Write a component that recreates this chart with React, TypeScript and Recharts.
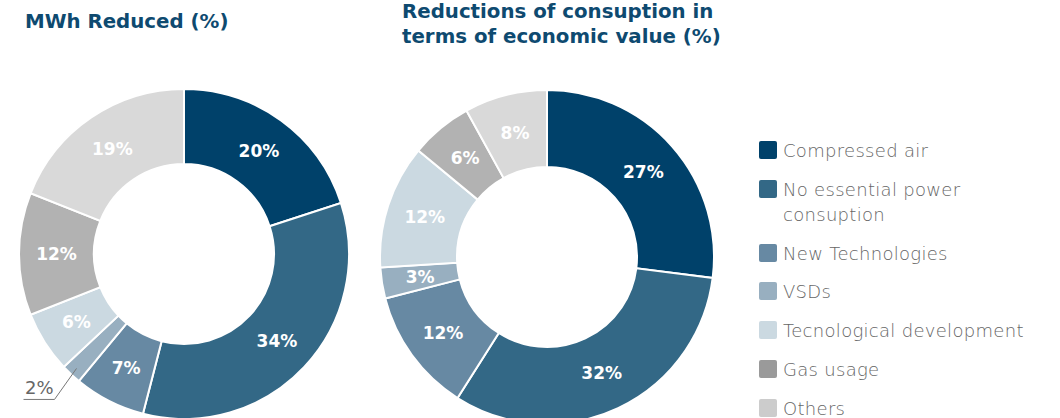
import { PieChart, Pie, Cell } from 'recharts';

const categories = [
  'Compressed air',
  'No essential power consuption',
  'New Technologies',
  'VSDs',
  'Tecnological development',
  'Gas usage',
  'Others',
];
const mwhReduced = [20, 34, 7, 2, 6, 12, 19];
const economicValue = [27, 32, 12, 3, 12, 6, 8];
const sliceColors = ['#00416a', '#336886', '#6789a3', '#98afc0', '#cbd9e1', '#b2b2b2', '#d9d9d9'];
const legendColors = ['#00416a', '#336886', '#6789a3', '#98afc0', '#cbd9e1', '#9a9a9a', '#cccccc'];

const RADIAN = Math.PI / 180;
const FONT = '"DejaVu Sans", sans-serif';

const toRows = (values: number[]) =>
  categories.map((name, i) => ({ name, value: values[i] }));

const renderLabel = (props: any) => {
  const { cx, cy, midAngle, innerRadius, outerRadius, value } = props;
  if (value < 3) {
    // small slice: label outside with a leader line
    const r0 = outerRadius - 8;
    const sx = cx + r0 * Math.cos(-midAngle * RADIAN);
    const sy = cy + r0 * Math.sin(-midAngle * RADIAN);
    const ex = sx - 22;
    const ey = sy + 31;
    return (
      <g>
        <polyline
          points={`${sx},${sy} ${ex},${ey} ${ex - 31},${ey}`}
          fill="none"
          stroke="#777"
          strokeWidth={1}
        />
        <text x={ex - 1} y={ey - 5} textAnchor="end" fill="#666" fontSize={18} fontFamily={FONT}>
          {value}%
        </text>
      </g>
    );
  }
  const r = (innerRadius + outerRadius) / 2;
  const x = cx + r * Math.cos(-midAngle * RADIAN);
  const y = cy + r * Math.sin(-midAngle * RADIAN);
  return (
    <text
      x={x}
      y={y}
      fill="#fff"
      textAnchor="middle"
      dominantBaseline="central"
      fontSize={17}
      fontWeight={700}
      fontFamily={FONT}
    >
      {value}%
    </text>
  );
};

const titleStyle: React.CSSProperties = {
  position: 'absolute',
  color: '#0e4a70',
  fontFamily: FONT,
  fontWeight: 700,
  fontSize: 19.8,
  lineHeight: '25px',
};

export default function App() {
  return (
    <div style={{ position: 'absolute', left: 0, top: 0, width: 1060, height: 418, background: '#fff', overflow: 'hidden' }}>
      <div style={{ ...titleStyle, left: 25, top: 9 }}>MWh Reduced (%)</div>
      <div style={{ ...titleStyle, left: 402, top: -1 }}>
        Reductions of consuption in
        <br />
        terms of economic value (%)
      </div>
      <div style={{ position: 'absolute', left: 0, top: 0 }}>
        <PieChart width={1060} height={418} margin={{ top: 0, right: 0, bottom: 0, left: 0 }}>
          <Pie
            data={toRows(mwhReduced)}
            dataKey="value"
            nameKey="name"
            cx={184}
            cy={254}
            innerRadius={90}
            outerRadius={165}
            startAngle={90}
            endAngle={-270}
            stroke="#fff"
            strokeWidth={2}
            label={renderLabel}
            labelLine={false}
            isAnimationActive={false}
          >
            {mwhReduced.map((_, i) => (
              <Cell key={i} fill={sliceColors[i]} />
            ))}
          </Pie>
          <Pie
            data={toRows(economicValue)}
            dataKey="value"
            nameKey="name"
            cx={547}
            cy={257}
            innerRadius={90}
            outerRadius={167}
            startAngle={90}
            endAngle={-270}
            stroke="#fff"
            strokeWidth={2}
            label={renderLabel}
            labelLine={false}
            isAnimationActive={false}
          >
            {economicValue.map((_, i) => (
              <Cell key={i} fill={sliceColors[i]} />
            ))}
          </Pie>
        </PieChart>
      </div>
      <div style={{ position: 'absolute', left: 759, top: 138, width: 295, fontFamily: FONT, fontWeight: 200, fontSize: 18, letterSpacing: 0.3, color: '#666' }}>
        {categories.map((c, i) => (
          <div key={c} style={{ display: 'flex', alignItems: 'flex-start', marginBottom: 13.8, lineHeight: '25px' }}>
            <span
              style={{
                width: 18,
                height: 18,
                borderRadius: 2,
                background: legendColors[i],
                marginTop: 3,
                marginRight: 6,
                flexShrink: 0,
              }}
            />
            <span style={{ maxWidth: 255 }}>{c}</span>
          </div>
        ))}
      </div>
    </div>
  );
}
